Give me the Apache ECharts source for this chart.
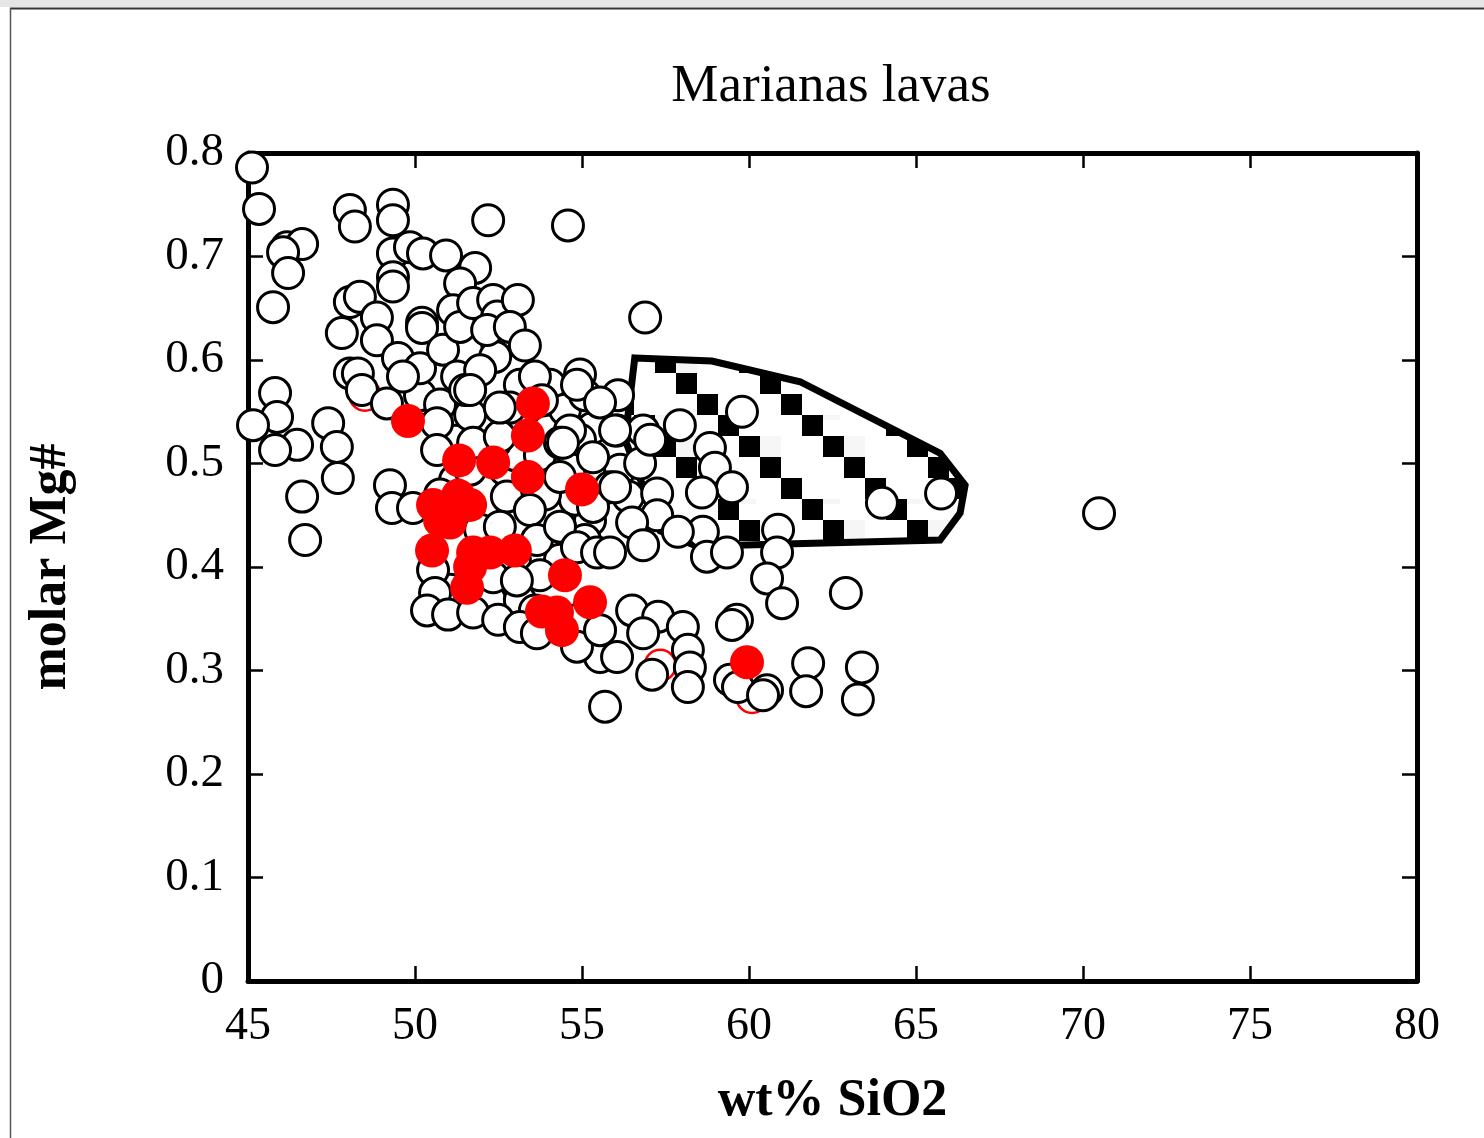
<!DOCTYPE html>
<html>
<head>
<meta charset="utf-8">
<title>Marianas lavas</title>
<script src="https://cdn.jsdelivr.net/npm/echarts@6/dist/echarts.min.js"></script>
<style>
  html, body { margin: 0; padding: 0; background: #fff; }
  #chart { width: 1484px; height: 1138px; }
</style>
</head>
<body>
<div id="chart"></div>
<script>
// Axis ranges and ticks
const xTicks = [45, 50, 55, 60, 65, 70, 75, 80];
const yTicks = [0, 0.1, 0.2, 0.3, 0.4, 0.5, 0.6, 0.7, 0.8];

// Outline of the shaded field (wt% SiO2, molar Mg#)
const fieldOutline = [
  [56.58, 0.602], [58.89, 0.599], [61.53, 0.579], [65.72, 0.510],
  [66.47, 0.479], [66.32, 0.452], [65.72, 0.426], [58.44, 0.420],
  [57.34, 0.435], [56.29, 0.523], [56.58, 0.602]
];

// Marianas lavas (open symbols)
const lavas = [
  [55.30,0.534],[53.98,0.532],[53.89,0.496],[54.94,0.523],[55.54,0.494],[56.14,0.494],[56.38,0.468],
  [55.24,0.445],[55.09,0.426],[54.34,0.407],[54.79,0.465],[53.89,0.470],[53.14,0.484],[52.69,0.494],
  [52.99,0.508],[53.74,0.508],[51.20,0.484],[51.65,0.494],[50.75,0.470],[51.95,0.436],[52.99,0.407],
  [53.74,0.392],[51.05,0.378],[51.65,0.373],[52.25,0.368],[53.14,0.368],[53.59,0.358],[50.15,0.566],
  [50.75,0.557],[51.20,0.522],[51.65,0.547],[53.14,0.576],[54.04,0.576],[54.49,0.552],[55.09,0.566],
  [54.88,0.349],
  [45.12,0.786],[45.33,0.746],[48.05,0.745],[48.20,0.729],[49.34,0.750],[49.34,0.735],[52.19,0.735],
  [54.58,0.730],[46.17,0.709],[46.62,0.712],[46.05,0.704],[46.20,0.684],[49.34,0.703],[49.85,0.709],
  [50.24,0.703],[50.93,0.701],[51.80,0.689],[51.35,0.674],[49.34,0.680],[49.34,0.671],
  [45.75,0.651],[48.05,0.656],[48.35,0.661],[48.86,0.641],[47.81,0.626],[48.86,0.619],[49.49,0.602],
  [50.15,0.592],[49.64,0.584],[50.21,0.636],[50.21,0.631],[50.84,0.610],[51.14,0.648],[51.35,0.632],
  [51.74,0.655],[52.34,0.658],[52.46,0.642],[52.46,0.616],[52.40,0.603],[52.16,0.629],[51.26,0.584],
  [51.50,0.571],[48.05,0.587],[48.29,0.587],[48.41,0.571],[49.16,0.558],[45.81,0.568],[45.87,0.545],
  [45.15,0.537],[47.40,0.539],[50.66,0.539],
  [53.08,0.658],[52.84,0.632],[53.29,0.614],[53.59,0.584],[54.94,0.586],[54.85,0.576],[56.08,0.566],
  [51.95,0.590],[51.65,0.571],[52.84,0.554],[53.80,0.561],[55.54,0.559],[56.05,0.532],[56.83,0.532],
  [57.93,0.537],[54.64,0.532],[54.34,0.520],[52.40,0.520],[50.66,0.513],[51.74,0.520],[52.54,0.526],
  [52.54,0.554],[54.43,0.520],[55.33,0.506],[54.34,0.487],[55.84,0.477],[52.75,0.468],[53.44,0.455],
  [52.54,0.439],[53.65,0.426],[54.34,0.439],[55.33,0.458],[54.85,0.419],[55.45,0.414],
  [50.54,0.397],[50.60,0.375],[50.36,0.358],[50.99,0.354],[51.74,0.356],[52.49,0.349],[53.14,0.342],
  [53.65,0.336],[52.34,0.390],[53.05,0.387],[55.54,0.313],[54.85,0.323],[55.54,0.339],[55.69,0.265],
  [46.62,0.468],[46.71,0.426],[47.69,0.486],[47.66,0.516],[46.47,0.518],[45.81,0.513],[49.25,0.479],
  [49.31,0.457],[49.94,0.457],
  [59.79,0.550],[58.83,0.515],[58.98,0.496],[59.49,0.477],[58.59,0.472],[58.62,0.434],[58.74,0.410],
  [59.34,0.414],[60.87,0.436],[60.84,0.414],[60.54,0.389],[60.99,0.365],[62.90,0.375],[63.98,0.462],
  [65.75,0.471],[70.48,0.452],[56.89,0.641],
  [56.74,0.500],[55.99,0.477],[57.25,0.471],[57.25,0.450],[56.50,0.443],[56.83,0.421],[55.84,0.414],
  [57.87,0.434],
  [56.50,0.358],[57.28,0.352],[58.02,0.342],[56.83,0.336],[56.05,0.313],[57.10,0.296],[58.17,0.320],
  [58.23,0.303],[58.17,0.284],[59.64,0.349],[59.49,0.344],[59.43,0.291],[59.67,0.284],[60.54,0.281],
  [60.42,0.276],[61.77,0.307],[61.71,0.280],[63.38,0.303],[63.26,0.272],[57.04,0.523],[55.99,0.532]
];

// Highlighted samples (filled red)
const redFilled = [
  [49.79,0.541],[53.53,0.558],[53.38,0.527],[51.32,0.503],[52.34,0.501],[53.38,0.487],[55.00,0.475],
  [50.54,0.460],[51.29,0.469],[51.65,0.460],[51.05,0.443],[50.75,0.445],[50.51,0.416],[51.74,0.414],
  [52.25,0.414],[52.99,0.416],[51.56,0.380],[51.65,0.400],[54.49,0.392],[55.24,0.366],[53.80,0.357],
  [54.25,0.356],[54.40,0.339],[59.94,0.308]
];

// Samples drawn as open red circles (mostly hidden beneath the others)
const redOpen = [
  [48.50,0.566],[57.34,0.305],[60.09,0.274]
];

// Checkerboard-diagonal fill used inside the field outline
function makeFieldTile() {
  const cell = 21, n = 4, size = cell * n;
  const c = document.createElement('canvas');
  c.width = size; c.height = size;
  const g = c.getContext('2d');
  g.fillStyle = '#ffffff';
  g.fillRect(0, 0, size, size);
  const ox = 4, oy = 16;
  for (let i = -1; i <= n; i++) {
    for (let j = -1; j <= n; j++) {
      const d = (((i - j) % n) + n) % n;
      if (d === 3) {
        g.fillStyle = '#000000';
        g.fillRect(ox + cell * i, oy + cell * j, cell, cell);
      } else if (d === 0 && ((i + j) % 3 === 0)) {
        g.fillStyle = '#f6f6f6';
        g.fillRect(ox + cell * i, oy + cell * j, cell, cell);
      }
    }
  }
  return c;
}
const fieldTile = makeFieldTile();

const serif = '"Liberation Serif", "Times New Roman", Times, serif';

const chart = echarts.init(document.getElementById('chart'), null, { renderer: 'canvas' });

const baseAxis = {
  axisLine: { show: true, onZero: false, lineStyle: { color: '#000', width: 5 } },
  axisTick: { show: true, inside: true, length: 15, lineStyle: { color: '#000', width: 2.5 } },
  splitLine: { show: false }
};

chart.setOption({
  animation: false,
  backgroundColor: '#ffffff',
  graphic: [
    { type: 'rect', silent: true, z: -10, shape: { x: 0, y: 0, width: 1484, height: 7 }, style: { fill: '#e6e6e6' } },
    { type: 'line', silent: true, z: -10, shape: { x1: 10, y1: 8.5, x2: 1484, y2: 8.5 }, style: { stroke: '#333', lineWidth: 2 } },
    { type: 'line', silent: true, z: -10, shape: { x1: 10.5, y1: 8, x2: 10.5, y2: 1138 }, style: { stroke: '#555', lineWidth: 1.5 } },
    { type: 'text', silent: true, x: 831, y: 87,
      style: { text: 'Marianas lavas', font: '53px ' + serif, fill: '#000', textAlign: 'center', textVerticalAlign: 'middle' } }
  ],
  grid: { left: 248, right: 67, top: 153, bottom: 157, containLabel: false },
  xAxis: [
    Object.assign({}, baseAxis, {
      type: 'value', position: 'bottom', min: 45, max: 80, interval: 5,
      name: 'wt% SiO2', nameLocation: 'middle', nameGap: 95,
      nameTextStyle: { fontFamily: serif, fontSize: 52, fontWeight: 'bold', color: '#000' },
      axisLabel: { margin: 23, fontFamily: serif, fontSize: 46, color: '#000' }
    }),
    Object.assign({}, baseAxis, {
      type: 'value', position: 'top', min: 45, max: 80, interval: 5,
      axisLabel: { show: false }
    })
  ],
  yAxis: [
    Object.assign({}, baseAxis, {
      type: 'value', position: 'left', min: 0, max: 0.8, interval: 0.1,
      name: 'molar Mg#', nameLocation: 'middle', nameGap: 170, nameRotate: 90,
      nameTextStyle: { fontFamily: serif, fontSize: 52, fontWeight: 'bold', color: '#000' },
      axisLabel: { margin: 24, fontFamily: serif, fontSize: 47, color: '#000' }
    }),
    Object.assign({}, baseAxis, {
      type: 'value', position: 'right', min: 0, max: 0.8, interval: 0.1,
      axisLabel: { show: false }
    })
  ],
  series: [
    {
      type: 'custom',
      clip: false,
      silent: true,
      z: 1,
      data: [fieldOutline[0]],
      renderItem: function (params, api) {
        const pts = fieldOutline.map(function (p) { return api.coord(p); });
        return {
          type: 'polygon',
          shape: { points: pts },
          style: {
            fill: { image: fieldTile, repeat: 'repeat' },
            stroke: '#000',
            lineWidth: 7,
            lineJoin: 'miter'
          }
        };
      }
    },
    {
      type: 'scatter', z: 2, silent: true,
      symbol: 'circle', symbolSize: 31,
      itemStyle: { color: 'rgba(0,0,0,0)', borderColor: '#ff0000', borderWidth: 2.5, opacity: 1 },
      data: redOpen
    },
    {
      type: 'scatter', z: 3, silent: true,
      symbol: 'circle', symbolSize: 31,
      itemStyle: { color: '#ffffff', borderColor: '#000000', borderWidth: 3, opacity: 1 },
      data: lavas
    },
    {
      type: 'scatter', z: 4, silent: true,
      symbol: 'circle', symbolSize: 34,
      itemStyle: { color: '#ff0000', opacity: 1 },
      data: redFilled
    }
  ]
});
</script>
</body>
</html>
